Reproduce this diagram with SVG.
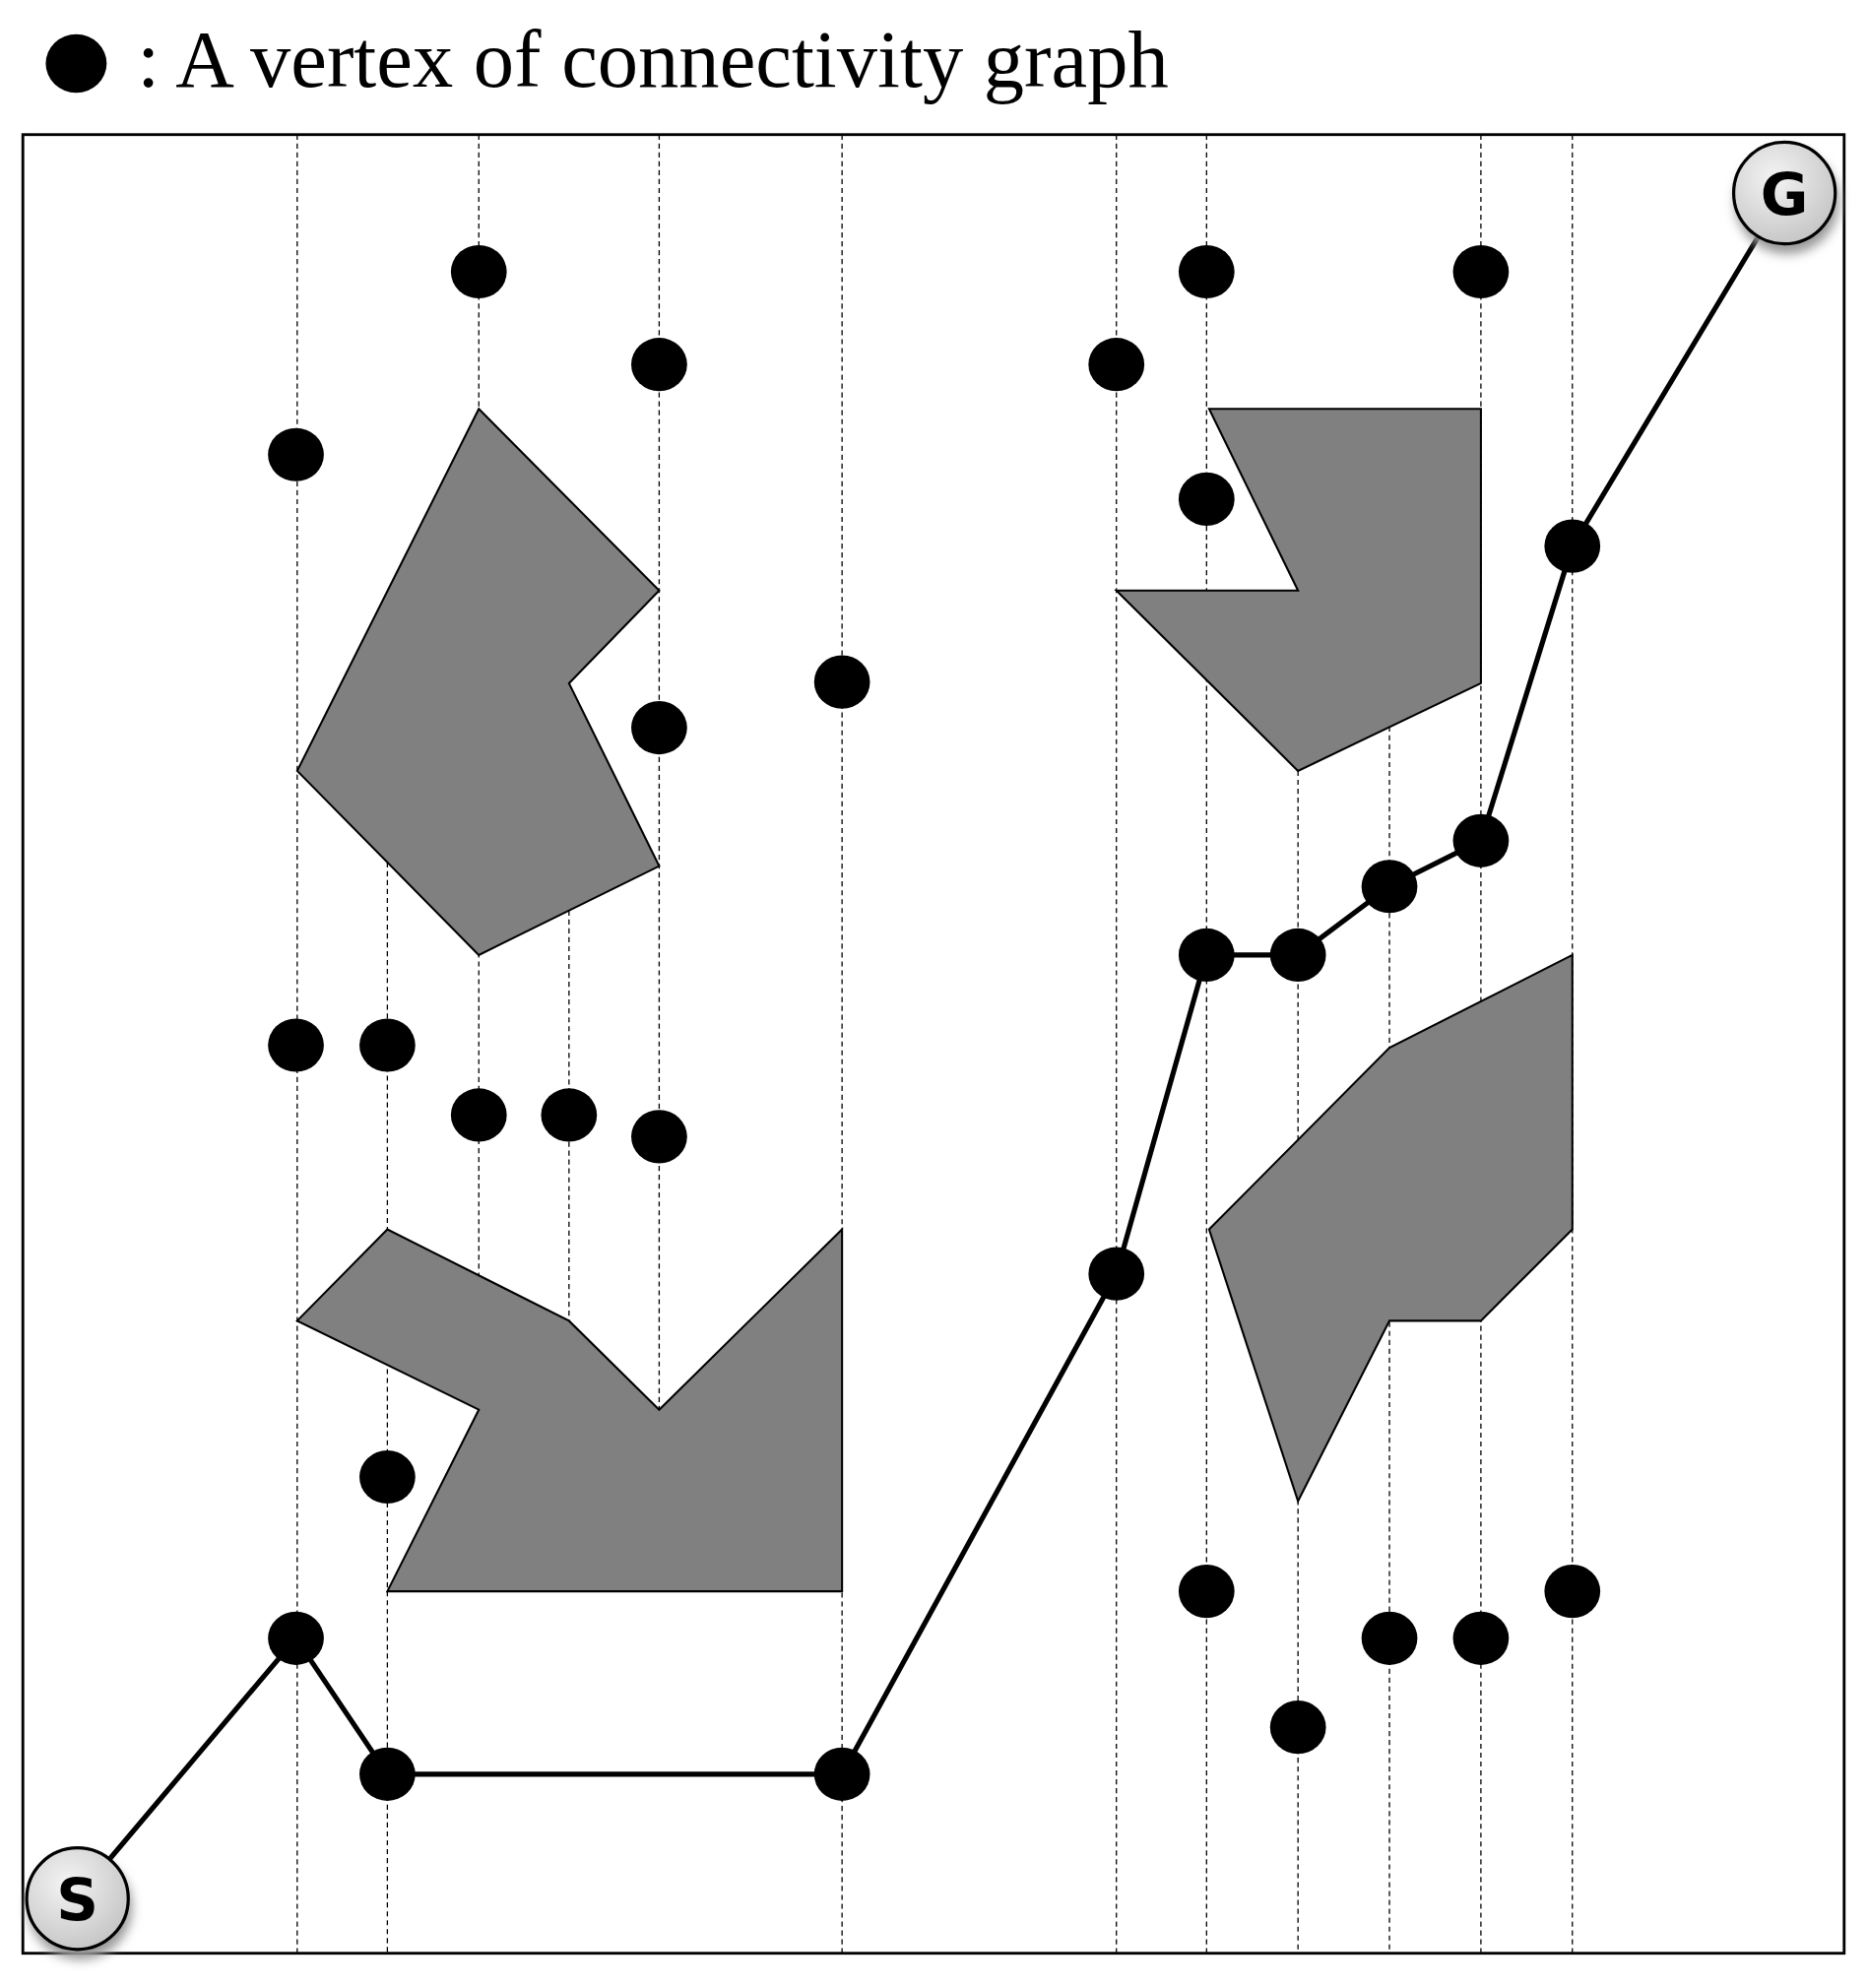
<svg xmlns="http://www.w3.org/2000/svg" width="1896" height="2019" viewBox="0 0 1896 2019">
<style>
.dash{stroke:#000;stroke-width:1;stroke-dasharray:4 3;fill:none}
.obs{fill:#808080;stroke:#000;stroke-width:1.6;stroke-linejoin:miter}
.v{fill:#000}
.path{fill:none;stroke:#000;stroke-width:4;stroke-linejoin:round}
.term{fill:url(#tg);stroke:#000;stroke-width:2.5}
.lbl{font-family:"DejaVu Sans","Open Sans",sans-serif;font-weight:bold;font-size:46px;text-anchor:middle}
</style>
<defs>
<radialGradient id="tg" cx="0.4" cy="0.35" r="0.7"><stop offset="0" stop-color="#f4f4f4"/><stop offset="1" stop-color="#c4c4c4"/></radialGradient>
<filter id="sh" x="-50%" y="-50%" width="200%" height="200%"><feGaussianBlur stdDeviation="4"/></filter>
</defs>
<rect width="1896" height="2019" fill="#fff"/>
<g transform="scale(1.2898)">
<g id="legend">
<ellipse cx="60" cy="50" rx="24" ry="23" class="v"/>
<text x="108" y="68" font-family="Liberation Serif,serif" font-size="64">: A vertex of connectivity graph</text>
</g>
<rect id="frame" x="18" y="106" width="1434" height="1432" fill="none" stroke="#000" stroke-width="2.2"/>
<g id="cells">
<line class="dash" x1="234" y1="106" x2="234" y2="1538"/>
<line class="dash" x1="305" y1="679" x2="305" y2="1538"/>
<line class="dash" x1="377" y1="106" x2="377" y2="1004"/>
<line class="dash" x1="448" y1="717" x2="448" y2="1040"/>
<line class="dash" x1="519" y1="106" x2="519" y2="1110"/>
<line class="dash" x1="663" y1="106" x2="663" y2="1538"/>
<line class="dash" x1="879" y1="106" x2="879" y2="1538"/>
<line class="dash" x1="950" y1="106" x2="950" y2="1538"/>
<line class="dash" x1="1022" y1="607" x2="1022" y2="1538"/>
<line class="dash" x1="1094" y1="572" x2="1094" y2="1538"/>
<line class="dash" x1="1166" y1="106" x2="1166" y2="1538"/>
<line class="dash" x1="1238" y1="106" x2="1238" y2="1538"/>
</g>
<g id="obstacles">
<polygon id="obs1" class="obs" points="377,322 519,465 448,538 519,682 377,752 234,607"/>
<polygon id="obs2" class="obs" points="234,1040 305,968 448,1040 519,1110 663,968 663,1253 305,1253 377,1110"/>
<polygon id="obs3" class="obs" points="952,322 1166,322 1166,538 1022,607 879,465 1022,465"/>
<polygon id="obs4" class="obs" points="952,968 1094,825 1238,752 1238,968 1166,1040 1094,1040 1022,1182"/>
</g>
<g id="connectors">
<polyline class="path" points="60,1495 233,1290 305,1397 663,1397 879,1003 950,752 1022,752 1094,698 1166,662 1238,430 1405,152"/>
</g>
<g id="vertices">
<ellipse class="v" cx="377" cy="214" rx="22" ry="21"/>
<ellipse class="v" cx="950" cy="214" rx="22" ry="21"/>
<ellipse class="v" cx="1166" cy="214" rx="22" ry="21"/>
<ellipse class="v" cx="519" cy="287" rx="22" ry="21"/>
<ellipse class="v" cx="879" cy="287" rx="22" ry="21"/>
<ellipse class="v" cx="233" cy="358" rx="22" ry="21"/>
<ellipse class="v" cx="950" cy="393" rx="22" ry="21"/>
<ellipse class="v" cx="1238" cy="430" rx="22" ry="21"/>
<ellipse class="v" cx="663" cy="537" rx="22" ry="21"/>
<ellipse class="v" cx="519" cy="573" rx="22" ry="21"/>
<ellipse class="v" cx="1166" cy="662" rx="22" ry="21"/>
<ellipse class="v" cx="1094" cy="698" rx="22" ry="21"/>
<ellipse class="v" cx="950" cy="752" rx="22" ry="21"/>
<ellipse class="v" cx="1022" cy="752" rx="22" ry="21"/>
<ellipse class="v" cx="233" cy="823" rx="22" ry="21"/>
<ellipse class="v" cx="305" cy="823" rx="22" ry="21"/>
<ellipse class="v" cx="377" cy="878" rx="22" ry="21"/>
<ellipse class="v" cx="448" cy="878" rx="22" ry="21"/>
<ellipse class="v" cx="519" cy="895" rx="22" ry="21"/>
<ellipse class="v" cx="879" cy="1003" rx="22" ry="21"/>
<ellipse class="v" cx="305" cy="1163" rx="22" ry="21"/>
<ellipse class="v" cx="950" cy="1253" rx="22" ry="21"/>
<ellipse class="v" cx="1238" cy="1253" rx="22" ry="21"/>
<ellipse class="v" cx="233" cy="1290" rx="22" ry="21"/>
<ellipse class="v" cx="1094" cy="1290" rx="22" ry="21"/>
<ellipse class="v" cx="1166" cy="1290" rx="22" ry="21"/>
<ellipse class="v" cx="1022" cy="1360" rx="22" ry="21"/>
<ellipse class="v" cx="305" cy="1397" rx="22" ry="21"/>
<ellipse class="v" cx="663" cy="1397" rx="22" ry="21"/>
</g>
<g id="start">
<circle cx="63" cy="1502" r="41" fill="#999" filter="url(#sh)"/>
<circle class="term" cx="61" cy="1495" r="40"/>
<text class="lbl" x="61" y="1512">S</text>
</g>
<g id="goal">
<circle cx="1407" cy="159" r="41" fill="#999" filter="url(#sh)"/>
<circle class="term" cx="1405" cy="152" r="40"/>
<text class="lbl" x="1405" y="169">G</text>
</g>
</g>
</svg>
